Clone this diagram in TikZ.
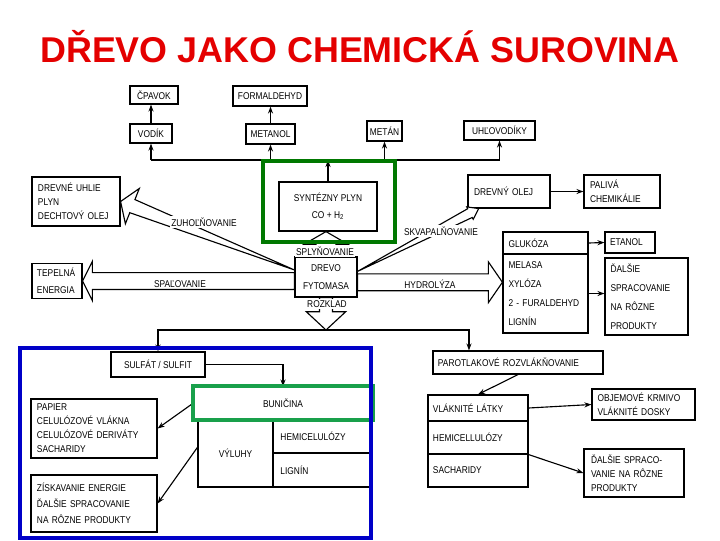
\documentclass[tikz,border=0pt]{standalone}
\usepackage{fontspec}
\setmainfont{Liberation Sans}
\newfontfamily\boxfont[FakeStretch=0.85]{Liberation Sans}
\usetikzlibrary{calc, arrows.meta}
\definecolor{titlered}{RGB}{228,0,0}
\definecolor{hlgreen}{RGB}{0,120,0}
\definecolor{hlgreenb}{RGB}{25,160,75}
\definecolor{hlblue}{RGB}{0,0,200}
\tikzset{ box/.style={draw, line width=0.8pt, inner sep=1pt,
            font=\boxfont\fontsize{7}{10}\selectfont},
        sz/.style 2 args={minimum width=#1cm, minimum height=#2cm},
        lft/.style={align=left, text width=#1cm},
        arr/.style={-{Stealth[length=5pt,width=3.6pt]}, line width=0.8pt},
        fat/.style={draw, fill=white, line width=0.8pt, line join=miter},
        lab/.style={font=\boxfont\fontsize{7}{9}\selectfont, inner sep=1pt},
        hilite/.style={line width=2.8pt}}
% wide hollow arrow: start, tip, start half width, shaft half width, head half width, head length
\newcommand{\fatarr}[6]{%
  \coordinate (fa-s) at #1;
  \coordinate (fa-e) at #2;
  \coordinate (fa-h) at ($(fa-e)!#6!(fa-s)$);
  \draw[fat] ($(fa-s)!#3!90:(fa-e)$) -- ($(fa-h)!#4!-90:(fa-s)$)
    -- ($(fa-h)!#5!-90:(fa-s)$) -- (fa-e) -- ($(fa-h)!#5!90:(fa-s)$)
    -- ($(fa-h)!#4!90:(fa-s)$) -- ($(fa-s)!#3!-90:(fa-e)$) -- cycle;}

\begin{document}
\begin{tikzpicture}[x=0.025cm, y=-0.025cm]
\useasboundingbox (0,0) rectangle (720,540);

\node[font=\bfseries\fontsize{25.5}{30}\selectfont, text=titlered] (title)
  at (360,47) {DŘEVO JAKO CHEMICKÁ SUROVINA};

% products of the synthesis gas
\node[box, sz={1.2}{0.45}] (cpavok) at (154,95) {ČPAVOK};
\node[box, sz={1.85}{0.5}] (formaldehyd) at (270,96) {FORMALDEHYD};
\node[box, sz={1.05}{0.475}] (vodik) at (151,133.5) {VODÍK};
\node[box, sz={1.225}{0.5}] (metanol) at (270.5,134) {METANOL};
\node[box, sz={0.875}{0.5}] (metan) at (384.5,131) {METÁN};
\node[box, sz={1.775}{0.475}] (uhlovodiky) at (499.5,130.5) {UHĽOVODÍKY};
\node[box, sz={2.45}{1.225}, align=center] (syntezny) at (328,206.5)
  {SYNTÉZNY PLYN\\[2pt]CO + H\textsubscript{2}};

% left side
\node[box, sz={2.2}{1.225}, lft=1.9] (uhlie) at (76,201.5)
  {DREVNÉ UHLIE\\PLYN\\DECHTOVÝ OLEJ};
\node[box, sz={1.25}{0.875}, lft=1.0] (tepelna) at (57,281)
  {TEPELNÁ\\[2pt]ENERGIA};

% wood
\node[box, sz={1.55}{1.0}, align=center] (drevo) at (326,277)
  {DREVO\\[3pt]FYTOMASA};

% right side
\node[box, sz={2.05}{0.825}, lft=1.75] (drevnyolej) at (509,191.5) {DREVNÝ OLEJ};
\node[box, sz={1.9}{0.825}, lft=1.6] (paliva) at (622,191.5) {PALIVÁ\\CHEMIKÁLIE};
\node[box, sz={2.125}{0.55}, lft=1.85] (glukoza) at (545.5,243) {GLUKÓZA};
\node[box, sz={2.125}{1.975}, lft=1.85] (cukry) at (545.5,293.5)
  {MELASA\\[3.5pt]XYLÓZA\\[3.5pt]2 - FURALDEHYD\\[3.5pt]LIGNÍN};
\node[box, sz={1.25}{0.525}, lft=1.0] (etanol) at (630,242.5) {ETANOL};
\node[box, sz={2.075}{1.925}, lft=1.8] (dalsie) at (646.5,296.5)
  {ĎALŠIE\\[3.5pt]SPRACOVANIE\\[3.5pt]NA RÔZNE\\[3.5pt]PRODUKTY};

% bus of the synthesis gas
\coordinate (bus) at (0,160);
\draw[line width=0.8pt] (vodik.south |- bus) -- (uhlovodiky.south |- bus);
\foreach \n in {vodik,metanol,metan,uhlovodiky}
  \draw[arr] (\n.south |- bus) -- (\n.south);
\foreach \a/\b in {vodik/cpavok, metanol/formaldehyd}
  \draw[arr] (\a.north) -- (\a.north |- \b.south);
\draw[arr] (syntezny.north) -- (syntezny.north |- bus);

\draw[arr] (drevnyolej.east) -- (paliva.west);
\draw[arr] (glukoza.east) -- (etanol.west);
\draw[arr] (cukry.east) -- (dalsie.west |- cukry.east);

% wide arrows out of the wood
\fatarr{([yshift=5pt]drevo.west)}{(uhlie.east)}{0pt}{5pt}{13.5pt}{9pt}
\fatarr{([yshift=4pt]drevo.east)}{([xshift=8pt]drevnyolej.south west)}{0pt}{3.5pt}{5pt}{7pt}
\fatarr{(drevo.west |- tepelna.east)}{(tepelna.east)}{6pt}{6pt}{14pt}{7pt}
\coordinate (hyd) at ([yshift=8pt]cukry.west);
\fatarr{(drevo.east |- hyd)}{(hyd)}{6pt}{6pt}{14.5pt}{10pt}
\fatarr{(drevo.north)}{(drevo.north |- syntezny.south)}{7pt}{7pt}{15.5pt}{9pt}
\coordinate (rozkl) at (326,330);
\fatarr{(drevo.south)}{(rozkl)}{4.6pt}{4.6pt}{14pt}{13pt}

\node[lab, fill=white] (zuhol) at (204,222) {ZUHOĽŇOVANIE};
\node[lab] (spal) at (180,284) {SPAĽOVANIE};
\node[lab] (hydro) at (430,284) {HYDROLÝZA};
\node[lab, fill=white] (splyn) at (325,251) {SPLYŇOVANIE};
\node[lab, fill=white] (skvap) at (441,231) {SKVAPALŇOVANIE};
\node[lab, fill=white] (rozklad) at (327,304) {ROZKLAD};

% lower left: pulp
\node[box, sz={2.35}{0.625}, align=center] (sulfat) at (158,364.5) {SULFÁT / SULFIT};
\node[box, sz={4.45}{0.8}, align=center] (bunicina) at (283,403) {BUNIČINA};
\node[box, sz={1.875}{1.7}, align=center] (vyluhy) at (235.5,453) {VÝLUHY};
\node[box, sz={2.475}{0.85}, lft=2.1] (hemi) at (322.5,436) {HEMICELULÓZY};
\node[box, sz={2.475}{0.85}, lft=2.1] (lignin) at (322.5,470) {LIGNÍN};
\node[box, sz={3.15}{1.475}, lft=2.85] (papier) at (94,428.5)
  {PAPIER\\CELULÓZOVÉ VLÁKNA\\CELULÓZOVÉ DERIVÁTY\\SACHARIDY};
\node[box, sz={3.15}{1.425}, lft=2.85] (ziskavanie) at (94,503.5)
  {ZÍSKAVANIE ENERGIE\\[1.5pt]ĎALŠIE SPRACOVANIE\\[1.5pt]NA RÔZNE PRODUKTY};

% lower right: steam explosion
\node[box, sz={4.25}{0.575}, lft=4.0] (parot) at (518,362.5) {PAROTLAKOVÉ ROZVLÁKŇOVANIE};
\node[box, sz={2.5}{0.65}, lft=2.25] (vlatky) at (478,408) {VLÁKNITÉ LÁTKY};
\node[box, sz={2.5}{0.825}, lft=2.25] (vhemi) at (478,437.5) {HEMICELLULÓZY};
\node[box, sz={2.5}{0.825}, lft=2.25] (vsach) at (478,470.5) {SACHARIDY};
\node[box, sz={2.575}{0.775}, lft=2.3] (objem) at (643.5,404.5)
  {OBJEMOVÉ KRMIVO\\VLÁKNITÉ DOSKY};
\node[box, sz={2.5}{1.2}, lft=2.15] (dalsieb) at (634,473)
  {ĎALŠIE SPRACO-\\VANIE NA RÔZNE\\PRODUKTY};

% decomposition
\coordinate (pdrop) at ([xshift=26pt]parot.north west);
\draw[arr] (rozkl) -| (sulfat.north);
\draw[arr] (rozkl) -| (pdrop);
\draw[arr] (sulfat.east) -| (bunicina.north);
\draw[arr] (bunicina.west) -- (papier.east);
\draw[arr] ([yshift=4pt]vyluhy.west) -- (ziskavanie.east);
\draw[arr] (parot.south) -- (vlatky.north);
\draw[arr] (vlatky.east) -- (objem.west);
\draw[arr] (vhemi.south east) -- (dalsieb.west);

% highlights
\draw[hilite, hlgreen] (263,161) rectangle (395,242);
\draw[hilite, hlgreenb] (bunicina.north west) rectangle (bunicina.south east);
\draw[hilite, hlblue] (20,348) rectangle (371,538);

\end{tikzpicture}
\end{document}
